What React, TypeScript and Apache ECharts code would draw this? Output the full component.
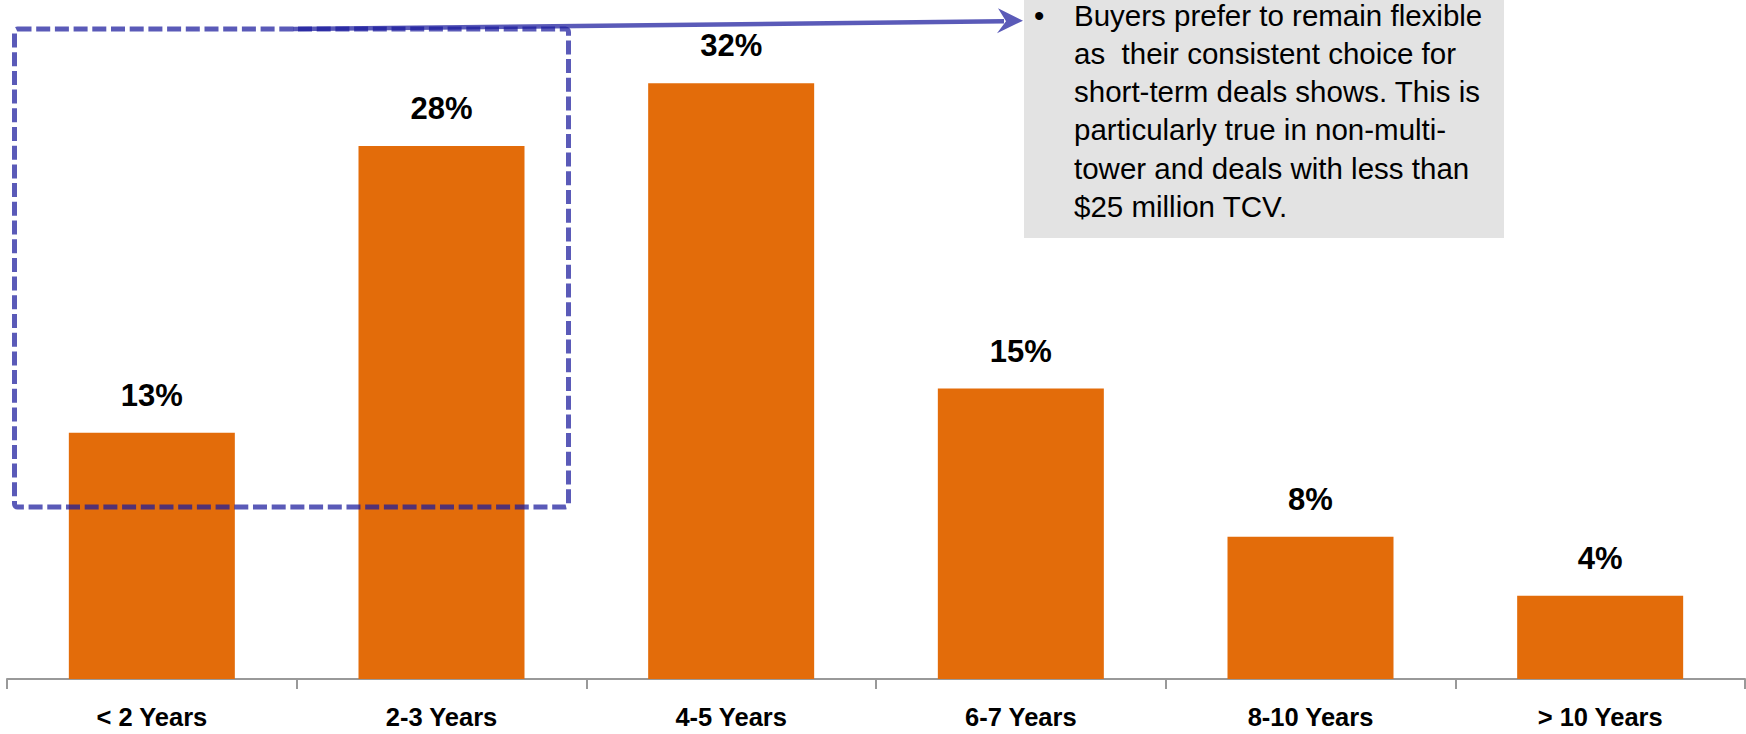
import React, { useEffect, useRef } from "react";
import * as echarts from "echarts";

const categories = ["< 2 Years", "2-3 Years", "4-5 Years", "6-7 Years", "8-10 Years", "> 10 Years"];
const shares = [13.06, 28.27, 31.59, 15.4, 7.55, 4.42];
const noteLines = [
  "Buyers prefer to remain flexible",
  "as  their consistent choice for",
  "short-term deals shows. This is",
  "particularly true in non-multi-",
  "tower and deals with less than",
  "$25 million TCV.",
];

const BLUE = "rgba(26,26,156,0.72)";
const NOTE_FONT = 29.5;
const NOTE_STEP = 38.3;

export default function App() {
  const ref = useRef<HTMLDivElement>(null);
  useEffect(() => {
    document.body.style.margin = "0";
    document.body.style.overflow = "hidden";
    const chart = echarts.init(ref.current!, null, { renderer: "svg" });
    const noteTexts = noteLines.map((line, i) => ({
      type: "text",
      z: 51,
      x: 1074,
      y: 15 + i * NOTE_STEP,
      style: {
        text: line,
        fill: "#000",
        fontSize: NOTE_FONT,
        fontFamily: "Liberation Sans",
        lineHeight: 30,
        verticalAlign: "middle",
      },
    }));
    chart.setOption({
      animation: false,
      grid: { left: 7, right: 1, top: 19, bottom: 55, containLabel: false },
      xAxis: {
        type: "category",
        data: categories,
        axisLine: { show: true, lineStyle: { color: "#999999", width: 2 } },
        axisTick: { show: true, length: 10, lineStyle: { color: "#999999", width: 2 } },
        axisLabel: {
          color: "#000",
          fontSize: 25.5,
          lineHeight: 24,
          fontWeight: "bold",
          fontFamily: "Liberation Sans",
          margin: 26,
          interval: 0,
        },
      },
      yAxis: { type: "value", min: 0, max: 35, show: false, splitLine: { show: false } },
      series: [
        {
          type: "bar",
          data: shares,
          barWidth: 166,
          itemStyle: { color: "#e36c0a" },
          label: {
            show: true,
            position: "top",
            distance: 22,
            color: "#000",
            fontSize: 31,
            fontWeight: "bold",
            fontFamily: "Liberation Sans",
            formatter: (p: any) => Math.round(p.value) + "%",
          },
        },
      ],
      graphic: [
        {
          type: "rect",
          z: 50,
          shape: { x: 1024, y: 0, width: 480, height: 238 },
          style: { fill: "#e3e3e3" },
        },
        {
          type: "text",
          z: 51,
          x: 1034,
          y: 15,
          style: {
            text: "•",
            fill: "#000",
            fontSize: NOTE_FONT,
            fontFamily: "Liberation Sans",
            lineHeight: 30,
            verticalAlign: "middle",
          },
        },
        ...noteTexts,
        {
          type: "rect",
          z: 100,
          shape: { x: 14.5, y: 29, width: 554, height: 478, r: 3 },
          style: { fill: "none", stroke: BLUE, lineWidth: 5, lineDash: [14, 4.7] },
        },
        {
          type: "line",
          z: 100,
          shape: { x1: 293, y1: 29, x2: 1004, y2: 21.3 },
          style: { stroke: BLUE, lineWidth: 4.5 },
        },
        {
          type: "polygon",
          z: 100,
          shape: {
            points: [
              [1023, 20.7],
              [998, 8.3],
              [1006, 21.2],
              [997, 33.3],
            ],
          },
          style: { fill: BLUE },
        },
      ],
    });
    return () => chart.dispose();
  }, []);
  return <div ref={ref} style={{ width: 1746, height: 734 }} />;
}
